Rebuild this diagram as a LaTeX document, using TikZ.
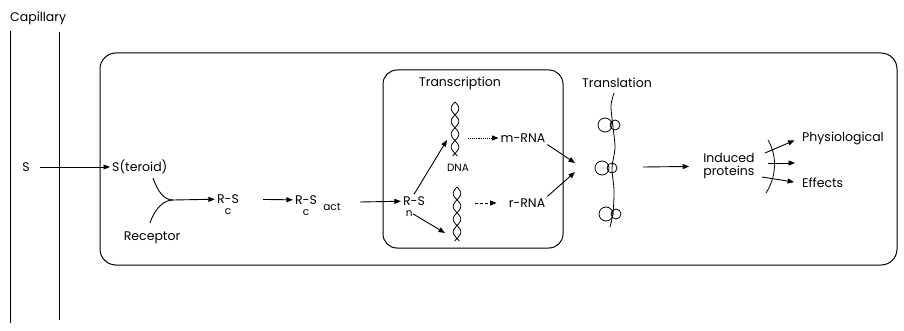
\documentclass[tikz,border=0pt]{standalone}
\usepackage{fontspec}
\setmainfont{Poppins}
\usetikzlibrary{arrows.meta,positioning}

\begin{document}
\begin{tikzpicture}[
  x=1pt, y=-1pt,
  every node/.style={font=\fontsize{12.5}{13.5}\selectfont, inner sep=2pt},
  sub/.style={font=\fontsize{10.5}{11}\selectfont, inner sep=0pt},
  wall/.style={line width=1pt},
  cellbox/.style={draw,line width=1pt,rounded corners=16pt},
  arrow/.style={-{Triangle[length=6.5pt,width=5pt]},line width=0.9pt},
  strand/.style={line width=0.8pt}
]
  \useasboundingbox (0,0) rectangle (904,331);

  % capillary
  \node[anchor=west] (cap) at (8,18) {Capillary};
  \draw[wall] (10,31) -- (10,323);
  \draw[wall] (59,32) -- (59,320);

  % cell and nucleus
  \draw[cellbox] (100,53) rectangle (897,265);
  \draw[cellbox, rounded corners=14pt] (383,70) rectangle (563,248);

  % steroid uptake and binding
  \node (s) at (26,167) {S};
  \node[anchor=west] (st) at (110,167) {S(teroid)};
  \node (rec) at (152,238) {Receptor};
  \coordinate (stin) at (153,178);
  \coordinate (recin) at (150,223);
  \coordinate (join) at (173,200);

  \node (rsc) at (228,199) {R-S};
  \node[sub, below=3pt of rsc] (rscc) {c};
  \node (rsa) at (306,200) {R-S};
  \node[sub, below=3pt of rsa] (rsac) {c};
  \node[sub, anchor=west] (act) at ([shift={(4,7)}]rsa.east) {act};
  \coordinate (actout) at (360,202);

  % transcription
  \node (trans) at (460,83) {Transcription};
  \node (rsn) at (414,201) {R-S};
  \node[sub, below left=3pt and -12pt of rsn] (rsnn) {n};
  \coordinate (h1) at (447,140);
  \coordinate (h2) at (445,233);
  \coordinate (h1out) at (468,138);
  \coordinate (h2out) at (475,203);
  \node[sub] (dna) at (458,168) {DNA};
  \node (mrna) at (523,138) {m-RNA};
  \node (rrna) at (527,203) {r-RNA};

  % double helices
  \foreach \cx/\y in {455/102, 457/187} {
    \draw[strand] plot[domain=0:54, samples=60] ({\cx+3.8*sin(\x*14)}, {\y+\x});
    \draw[strand] plot[domain=0:54, samples=60] ({\cx-3.8*sin(\x*14)}, {\y+\x});
  }

  % translation
  \node (transl) at (617,83) {Translation};
  \coordinate (rib1) at (575,163);
  \coordinate (rib2) at (575,172);
  \coordinate (ribout) at (643,167);
  \draw[strand] plot[smooth] coordinates {(614,93) (611,106) (613,127) (615,148)
    (612,168) (614,190) (613,213) (610,227)};
  \foreach \y/\dx in {125/0, 168/-3, 214/1} {
    \draw[strand] (605+\dx,\y) circle (7);
    \draw[strand] (615+\dx,\y) circle (5);
  }

  % products and effects
  \node[align=left] (ind) at (729,166) {Induced\\proteins};
  \node[anchor=west] (phys) at (800,138) {Physiological};
  \node[anchor=west] (eff) at (800,183) {Effects};
  \coordinate (e1) at (765,153);
  \coordinate (e2) at (768,163);
  \coordinate (e3) at (762,177);
  \coordinate (e2end) at (795,163);
  \draw[strand] (768,140) .. controls (777,155) and (777,176) .. (766,193);

  \draw[arrow, shorten <=8pt] (s) -- (st);
  \draw[line width=0.9pt] (stin) .. controls (158,192) and (164,200) .. (join);
  \draw[line width=0.9pt] (recin) .. controls (155,208) and (164,200) .. (join);
  \draw[arrow] (join) -- (rsc);
  \draw[arrow, shorten <=22pt] (rsc) -- (rsa);
  \draw[arrow] (actout) -- (rsn);
  \draw[arrow] (rsn.north) -- (h1);
  \draw[arrow] (rsnn.east) -- (h2);
  \draw[arrow, densely dotted] (h1out) -- (mrna);
  \draw[arrow, densely dashed, shorten >=10pt] (h2out) -- (rrna);
  \draw[arrow] (mrna.south east) -- (rib1);
  \draw[arrow] (rrna.north east) -- (rib2);
  \draw[arrow, shorten >=12pt] (ribout) -- (ind);
  \draw[arrow, shorten >=6pt] (e1) -- (phys.west);
  \draw[arrow] (e2) -- (e2end);
  \draw[arrow, shorten >=6pt] (e3) -- (eff.west);
\end{tikzpicture}
\end{document}
